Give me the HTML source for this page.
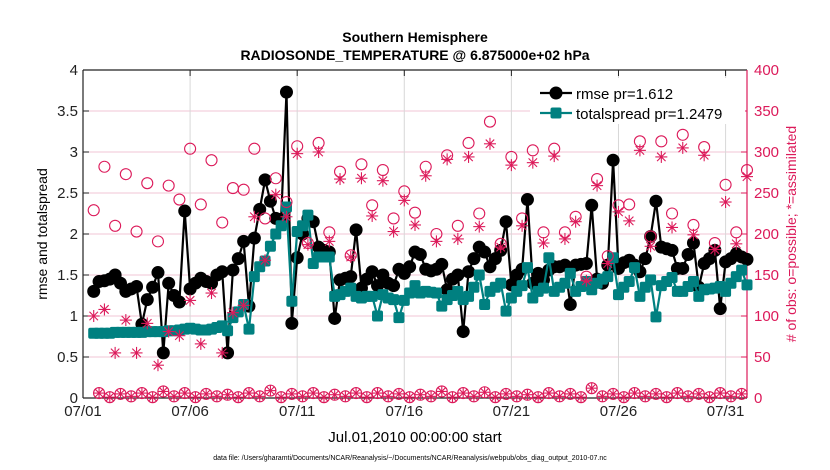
<!DOCTYPE html>
<html><head><meta charset="utf-8"><style>
html,body{margin:0;padding:0;background:#fff;}
svg{display:block;font-family:"Liberation Sans",Arial,sans-serif;}
</style></head><body>
<svg id="chart" width="830" height="470" viewBox="0 0 830 470">
<text x="415" y="42" text-anchor="middle" font-size="14" font-weight="bold">Southern Hemisphere</text>
<text x="415" y="60" text-anchor="middle" font-size="14" font-weight="bold">RADIOSONDE_TEMPERATURE @ 6.875000e+02 hPa</text>
<text transform="translate(47,234) rotate(-90)" text-anchor="middle" font-size="14">rmse and totalspread</text>
<text transform="translate(796,234) rotate(-90)" text-anchor="middle" font-size="14" fill="#dc1a5a"># of obs: o=possible; *=assimilated</text>
<text x="415" y="442" text-anchor="middle" font-size="15">Jul.01,2010 00:00:00 start</text>
<text x="410" y="460" text-anchor="middle" font-size="7">data file: /Users/gharamti/Documents/NCAR/Reanalysis/~/Documents/NCAR/Reanalysis/webpub/obs_diag_output_2010-07.nc</text>
<g id="grid"></g>
<g id="axes"></g>
<g id="marks"></g>
<g id="legend">
<rect x="530" y="78" width="215" height="46" fill="#fff"/>
<line x1="540" y1="93" x2="572" y2="93" stroke="#000" stroke-width="2.2"/>
<circle cx="556" cy="93" r="6.5" fill="#000"/>
<text x="576" y="99" font-size="15">rmse pr=1.612</text>
<line x1="540" y1="113" x2="572" y2="113" stroke="#008080" stroke-width="2.2"/>
<rect x="550.5" y="107.5" width="11" height="11" rx="2" fill="#008080"/>
<text x="576" y="119" font-size="15">totalspread pr=1.2479</text>
</g>
</svg>
<script>
const rmse=[1.30,1.42,1.43,1.45,1.50,1.40,1.30,1.33,1.36,0.90,1.20,1.35,1.53,0.55,1.40,1.25,1.17,2.28,1.33,1.40,1.46,1.42,1.40,1.50,1.54,0.55,1.56,1.70,1.91,1.12,1.95,2.30,2.66,2.40,2.19,2.18,3.73,0.91,1.71,2.00,2.19,2.15,1.84,1.80,1.78,0.97,1.44,1.46,1.48,2.05,1.34,1.45,1.54,1.37,1.50,1.40,1.37,1.57,1.52,1.60,1.78,1.75,1.57,1.55,1.57,1.63,1.32,1.45,1.50,0.81,1.54,1.70,1.84,1.78,1.60,1.70,1.80,2.15,1.38,1.50,1.57,2.42,1.40,1.52,1.44,1.56,1.60,1.60,1.62,1.14,1.62,1.63,1.64,2.35,1.45,1.40,1.62,2.90,1.58,1.65,1.68,1.62,1.54,1.70,1.97,2.40,1.84,1.82,1.80,1.58,1.58,1.75,1.89,1.35,1.64,1.70,1.80,1.09,1.66,1.70,1.76,1.72,1.69];
const spread=[0.79,0.79,0.79,0.79,0.80,0.80,0.80,0.80,0.80,0.80,0.81,0.81,0.81,0.81,0.82,0.82,0.83,0.84,0.85,0.84,0.83,0.83,0.84,0.86,0.88,0.82,0.98,1.05,1.14,0.84,1.48,1.60,1.67,1.85,2.00,2.10,2.33,1.18,2.03,2.10,2.23,1.64,1.72,1.72,1.72,1.24,1.26,1.30,1.34,1.24,1.22,1.24,1.24,1.00,1.26,1.22,1.20,0.98,1.19,1.28,1.37,1.28,1.30,1.29,1.28,1.12,1.20,1.25,1.30,1.20,1.24,1.35,1.50,1.14,1.30,1.35,1.40,1.06,1.22,1.30,1.37,1.59,1.22,1.30,1.34,1.71,1.30,1.35,1.40,1.52,1.30,1.36,1.42,1.32,1.40,1.45,1.48,1.71,1.26,1.35,1.42,1.59,1.24,1.35,1.44,0.99,1.37,1.42,1.47,1.30,1.30,1.36,1.42,1.24,1.32,1.33,1.34,1.36,1.30,1.40,1.48,1.56,1.38];
const obsPossible=[229,282,210,273,203,262,191,259,242,304,236,290,214,256,254,304,219,268,239,307,189,311,202,276,174,285,235,278,219,252,226,282,200,296,210,311,225,337,188,294,219,302,202,304,202,221,148,267,173,235,236,313,197,313,225,321,211,306,189,260,202,278];
const obsAssim=[100,108,55,95,55,91,40,81,76,119,66,128,55,104,113,221,168,248,221,298,187,300,191,267,172,268,222,265,203,241,211,271,191,291,194,294,209,310,184,284,210,287,189,295,194,215,143,259,164,227,216,302,185,294,208,305,199,296,181,239,188,270];
const lowPossible=[6,1,5,2,6,1,8,2,6,1,5,2,4,1,6,2,9,1,5,2,6,1,4,2,6,1,6,2,5,1,4,2,8,1,6,2,7,1,5,2,4,1,6,2,5,1,12,2,5,1,6,2,5,1,6,2,5,1,6,2,5];
const xTicks=["07/01","07/06","07/11","07/16","07/21","07/26","07/31"];
const leftTicks=["0","0.5","1","1.5","2","2.5","3","3.5","4"];
const rightTicks=["0","50","100","150","200","250","300","350","400"];

const NS="http://www.w3.org/2000/svg";
const X0=83,X1=747,Y0=398,Y1=70,DAYS=31;
const xs=d=>X0+d*(X1-X0)/DAYS;
const yL=v=>Y0-v*(Y0-Y1)/4;
const yR=v=>Y0-v*(Y0-Y1)/400;
const PINK="#dc1a5a",TEAL="#008080";
function mk(tag,attrs,parent){const e=document.createElementNS(NS,tag);for(const k in attrs)e.setAttribute(k,attrs[k]);parent.appendChild(e);return e;}
const grid=document.getElementById('grid'),axes=document.getElementById('axes'),marks=document.getElementById('marks');

leftTicks.forEach((t,i)=>{
  const v=parseFloat(t),y=yL(v);
  if(i>0&&i<leftTicks.length-1){const g=mk('line',{x1:X0,x2:X1,y1:y,y2:y,stroke:'#f2c4d4','stroke-width':1},grid);
  
  }
  const tk=mk('line',{x1:X0,x2:X0+6,y1:y,y2:y,stroke:'#222'},axes);
  
  
  const tx=mk('text',{x:X0-5,y:y+5,'text-anchor':'end','font-size':15,fill:'#222'},axes);tx.textContent=t;
  
  
});
rightTicks.forEach(t=>{
  const y=yR(parseFloat(t));
  const tk=mk('line',{x1:X1-6,x2:X1,y1:y,y2:y,stroke:PINK},axes);
  
  
  const tx=mk('text',{x:X1+7,y:y+5,'font-size':15,fill:PINK},axes);tx.textContent=t;
  
  
});
xTicks.forEach((t,i)=>{
  const x=xs(i*5);
  const g=mk('line',{x1:x,x2:x,y1:Y1,y2:Y0,stroke:'#d8d8d8','stroke-width':1},grid);
  
  
  const tk=mk('line',{x1:x,x2:x,y1:Y0,y2:Y0-6,stroke:'#222'},axes);
  
  
  const tt=mk('line',{x1:x,x2:x,y1:Y1,y2:Y1+6,stroke:'#222'},axes);
  
  
  const tx=mk('text',{x:x,y:Y0+18,'text-anchor':'middle','font-size':15,fill:'#222'},axes);tx.textContent=t;
  
  
});
const sp=[['top',X0,Y1,X1,Y1,'#222'],['bottom',X0,Y0,X1,Y0,'#222'],['left',X0,Y1,X0,Y0,'#222'],['right',X1,Y1,X1,Y0,PINK]];
sp.forEach(s=>{const l=mk('line',{x1:s[1],y1:s[2],x2:s[3],y2:s[4],stroke:s[5],'stroke-width':1.2},axes);
  
  });

const tR=i=>0.5+0.25*i;
let p=rmse.map((v,i)=>xs(tR(i)).toFixed(1)+','+yL(v).toFixed(1)).join(' ');
const rl=mk('polyline',{points:p,fill:'none',stroke:'#000','stroke-width':2.2,'stroke-linejoin':'round'},marks);


rmse.forEach((v,i)=>{const c=mk('circle',{cx:xs(tR(i)),cy:yL(v),r:6.5,fill:'#000'},marks);
  
  });
p=spread.map((v,i)=>xs(tR(i)).toFixed(1)+','+yL(v).toFixed(1)).join(' ');
const sl=mk('polyline',{points:p,fill:'none',stroke:TEAL,'stroke-width':2.2,'stroke-linejoin':'round'},marks);


spread.forEach((v,i)=>{const r=mk('rect',{x:xs(tR(i))-5.5,y:yL(v)-5.5,width:11,height:11,rx:2,fill:TEAL},marks);
  
  });
function star(x,y,s,name){
  const g=mk('g',{stroke:PINK,'stroke-width':1.1},marks);
  
  
  const d=s*0.707;
  mk('line',{x1:x-s,y1:y,x2:x+s,y2:y},g);mk('line',{x1:x,y1:y-s,x2:x,y2:y+s},g);
  mk('line',{x1:x-d,y1:y-d,x2:x+d,y2:y+d},g);mk('line',{x1:x-d,y1:y+d,x2:x+d,y2:y-d},g);
}
const tO=i=>0.5+0.5*i;
obsPossible.forEach((v,i)=>{const c=mk('circle',{cx:xs(tO(i)),cy:yR(v),r:5.5,fill:'none',stroke:PINK,'stroke-width':1.1},marks);
  
  });
obsAssim.forEach((v,i)=>star(xs(tO(i)),yR(v),6,'obs-assimilated-point'));
const tLow=i=>0.75+0.5*i;
lowPossible.forEach((v,i)=>{
  const c=mk('circle',{cx:xs(tLow(i)),cy:yR(v),r:5.5,fill:'none',stroke:PINK,'stroke-width':1.1},marks);
  
  
  star(xs(tLow(i)),yR(v),5.5,'obs-assimilated-low-point');
});
document.getElementById('chart').appendChild(document.getElementById('legend'));
</script>
</body></html>
